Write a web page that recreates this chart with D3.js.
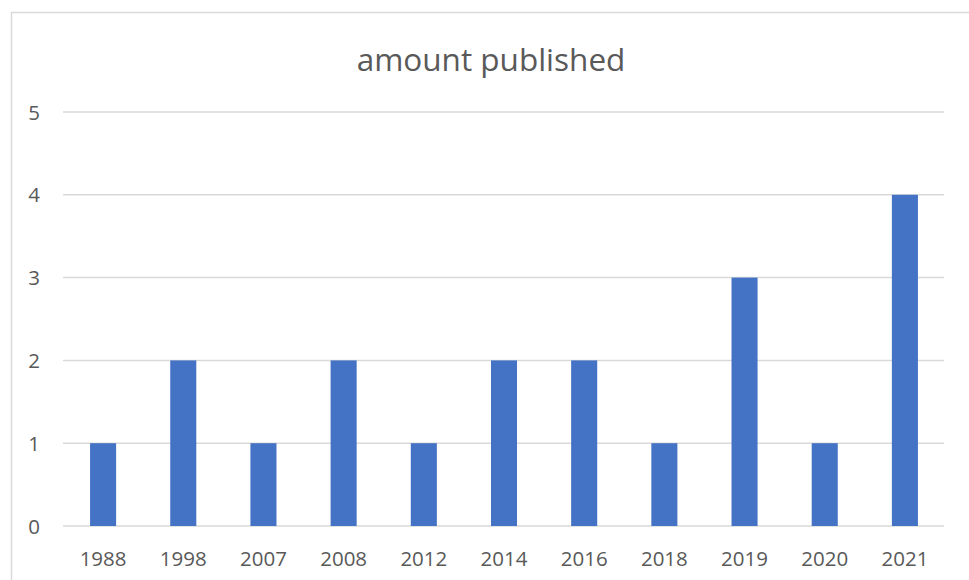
<!DOCTYPE html>
<html>
<head>
<meta charset="utf-8">
<script src="https://cdn.jsdelivr.net/npm/d3@7"></script>
<style>
  body { margin: 0; background: #fff; }
  text { font-family: "Open Sans", "Noto Sans", sans-serif; fill: #595959; }
</style>
</head>
<body>
<script>
const width = 969, height = 580;

const years = ["1988", "1998", "2007", "2008", "2012", "2014", "2016", "2018", "2019", "2020", "2021"];
const amounts = [1, 2, 1, 2, 1, 2, 2, 1, 3, 1, 4];
const yTicks = [0, 1, 2, 3, 4, 5];
const title = "amount published";

const data = years.map((y, i) => ({year: y, value: amounts[i]}));

const svg = d3.select("body").append("svg")
    .attr("width", width)
    .attr("height", height);

// chart frame (runs off the right and bottom edge)
svg.append("rect")
    .attr("x", 11.5).attr("y", 12.5)
    .attr("width", 980).attr("height", 600)
    .attr("fill", "none")
    .attr("stroke", "#d9d9d9")
    .attr("stroke-width", 1.5);

const x = d3.scaleBand()
    .domain(years)
    .range([63, 945])
    .paddingInner(0.675)
    .paddingOuter(0.3375);

const y = d3.scaleLinear()
    .domain([0, 5])
    .range([526, 112]);

// gridlines
svg.append("g")
    .selectAll("line")
    .data(yTicks)
    .join("line")
    .attr("x1", 63)
    .attr("x2", 944)
    .attr("y1", d => y(d))
    .attr("y2", d => y(d))
    .attr("stroke", "#d9d9d9")
    .attr("stroke-width", 1.5);

// bars
svg.append("g")
    .selectAll("rect")
    .data(data)
    .join("rect")
    .attr("x", d => x(d.year))
    .attr("width", x.bandwidth())
    .attr("y", d => y(d.value))
    .attr("height", d => y(0) - y(d.value))
    .attr("fill", "#4472c4");

// y labels
const yAxis = d3.axisLeft(y).tickValues(yTicks).tickFormat(d3.format("d")).tickSize(0).tickPadding(0);
const gy = svg.append("g")
    .attr("transform", "translate(40,0)")
    .call(yAxis);
gy.select(".domain").remove();
gy.selectAll("text")
    .style("font-size", "20.5px")
    .attr("fill", "#595959")
    .attr("dy", "0.35em");

// x labels
const xAxis = d3.axisBottom(x).tickSize(0).tickPadding(0);
const gx = svg.append("g")
    .attr("transform", "translate(0,566)")
    .call(xAxis);
gx.select(".domain").remove();
gx.selectAll("text")
    .style("font-size", "20.5px")
    .attr("fill", "#595959")
    .attr("dy", "0");

svg.append("text")
    .attr("x", 491)
    .attr("y", 71)
    .attr("text-anchor", "middle")
    .style("font-size", "31.5px")
    .text(title);
</script>
</body>
</html>
